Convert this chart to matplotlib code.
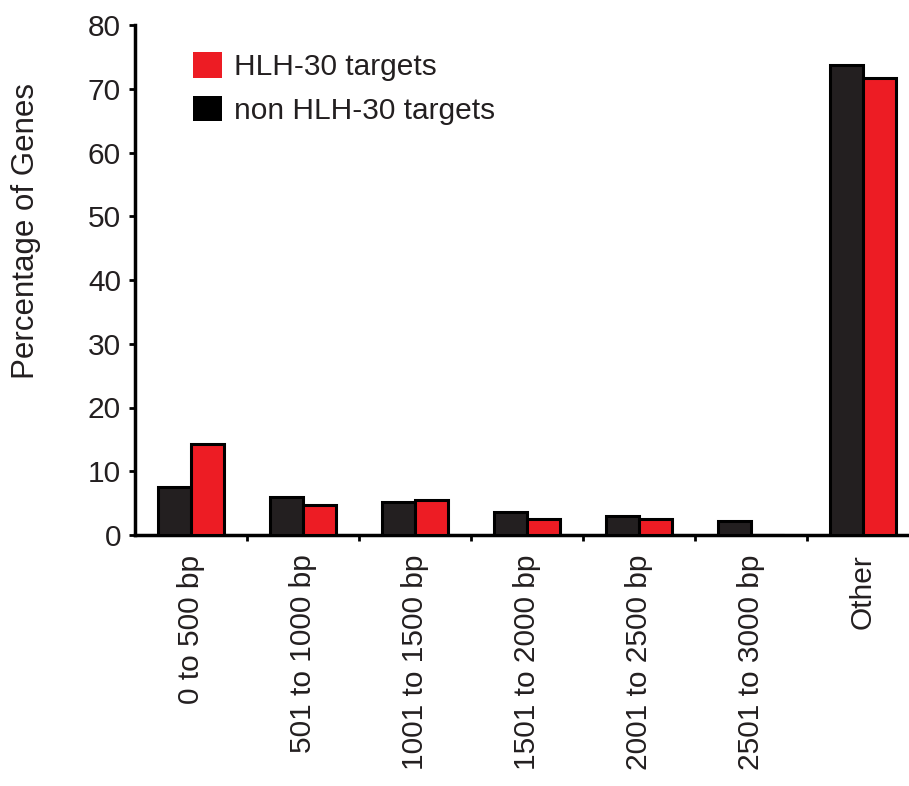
import matplotlib
matplotlib.use("Agg")
import matplotlib.pyplot as plt
from matplotlib.patches import Patch
import numpy as np

plt.rcParams['font.family'] = ['Liberation Sans', 'DejaVu Sans']

categories = ["0 to 500 bp", "501 to 1000 bp", "1001 to 1500 bp", "1501 to 2000 bp",
              "2001 to 2500 bp", "2501 to 3000 bp", "Other"]
non_targets = [7.5, 6.0, 5.2, 3.6, 3.0, 2.2, 73.7]
hlh30_targets = [14.3, 4.7, 5.5, 2.5, 2.5, 0.0, 71.7]
y_ticks = [0, 10, 20, 30, 40, 50, 60, 70, 80]

BLACK = "#231f20"
RED = "#ed1c24"
FS = 21.5

fig = plt.figure(figsize=(9.09, 7.86), dpi=100)
ax = fig.add_axes([135 / 909, 251 / 786, 774 / 909, 510 / 786])

x = np.arange(len(categories))
w = 0.295
ax.bar(x - w / 2, non_targets, w, color=BLACK, edgecolor="black", linewidth=2.2, zorder=3)
ax.bar(x + w / 2, hlh30_targets, w, color=RED, edgecolor="black", linewidth=2.2, zorder=3)

ax.set_xlim(-0.5, 6.41)
ax.set_ylim(0, 80)
ax.set_yticks(y_ticks)
ax.tick_params(axis='y', labelsize=FS, length=4, width=2, direction='out', pad=6,
               colors="black", labelcolor=BLACK)

ax.set_xticks(x)
ax.set_xticklabels(categories, rotation=90, fontsize=FS, color=BLACK)
ax.tick_params(axis='x', which='major', length=0, pad=14)
ax.set_xticks(x[:-1] + 0.5, minor=True)
ax.tick_params(axis='x', which='minor', length=4, width=2, direction='out')

for side in ("top", "right"):
    ax.spines[side].set_visible(False)
for side in ("left", "bottom"):
    ax.spines[side].set_linewidth(2.5)
    ax.spines[side].set_color("black")

ax.set_ylabel("Percentage of Genes", fontsize=FS + 1, color=BLACK)
ax.yaxis.set_label_coords(-0.121, 0.596)

handles = [Patch(facecolor=RED, edgecolor="none", label="HLH-30 targets"),
           Patch(facecolor="black", edgecolor="none", label="non HLH-30 targets")]
leg = ax.legend(handles=handles, loc="upper left", bbox_to_anchor=(0.06, 0.97),
                frameon=False, fontsize=FS, handlelength=0.95, handleheight=0.95,
                handletextpad=0.4, labelspacing=0.48, borderaxespad=0)
for t in leg.get_texts():
    t.set_color(BLACK)

fig.savefig("out.png", dpi=100)
